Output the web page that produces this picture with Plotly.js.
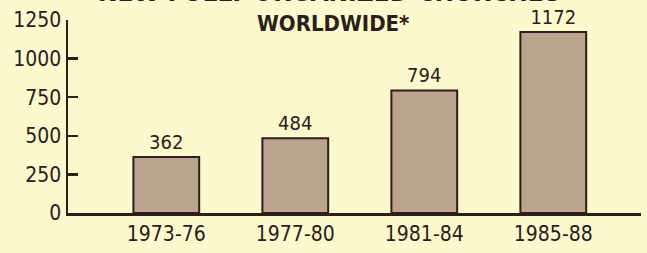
<!DOCTYPE html>
<html>
<head>
<meta charset="utf-8">
<script src="https://cdn.plot.ly/plotly-3.0.1.min.js"></script>
<style>
html,body{margin:0;padding:0;background:#FCF9CE;}
#chart{width:647px;height:253px;}
</style>
</head>
<body>
<div id="chart"></div>
<script>
const categories = ["1973-76", "1977-80", "1981-84", "1985-88"];
const churches = [362, 484, 794, 1172];
const yTickVals = [0, 250, 500, 750, 1000, 1250];
const yTickText = ["0", "250", "500", "750", "1000", "1250"];
const chartTitle = "NEW FULLY ORGANIZED CHURCHES";
const subTitle = "WORLDWIDE*";

const FONT = "DejaVu Sans Condensed, Liberation Sans Narrow, Arial Narrow, sans-serif";
const INK = "#2a2018";

const trace = {
  type: "bar",
  x: categories,
  y: churches,
  width: 0.51,
  marker: {color: "#BBA48F", line: {color: INK, width: 2}},
  text: churches.map(String),
  textposition: "outside",
  cliponaxis: false,
  textfont: {family: FONT, size: 20, color: INK},
  hoverinfo: "none"
};

const layout = {
  width: 647, height: 253,
  paper_bgcolor: "#FCF9CE",
  plot_bgcolor: "#FCF9CE",
  margin: {l: 68, r: 6, t: 20, b: 40},
  showlegend: false,
  font: {family: FONT, color: INK},
  xaxis: {
    type: "category",
    range: [-0.762, 3.68],
    showline: true, linecolor: INK, linewidth: 2.5,
    ticks: "", showgrid: false, zeroline: false,
    tickfont: {family: FONT, size: 21, color: INK},
    ticklabelstandoff: 0
  },
  yaxis: {
    range: [0, 1250],
    tickvals: yTickVals, ticktext: yTickText,
    showline: true, linecolor: INK, linewidth: 2.5,
    ticks: "inside", ticklen: 10, tickwidth: 2.5, tickcolor: INK,
    showgrid: false, zeroline: false,
    tickfont: {family: FONT, size: 21, color: INK}
  },
  annotations: [
    {text: "<b>" + subTitle + "</b>", xref: "paper", yref: "paper",
     x: 0.4625, y: 0.984, xanchor: "center", yanchor: "middle",
     showarrow: false, font: {family: FONT, size: 22, color: INK}},
    {text: "<b>" + chartTitle + "</b>", xref: "paper", yref: "paper",
     x: 0.457, y: 1.147, xanchor: "center", yanchor: "middle",
     showarrow: false, font: {family: FONT, size: 26, color: INK}}
  ]
};

Plotly.newPlot("chart", [trace], layout, {staticPlot: true, displayModeBar: false});
</script>
</body>
</html>
